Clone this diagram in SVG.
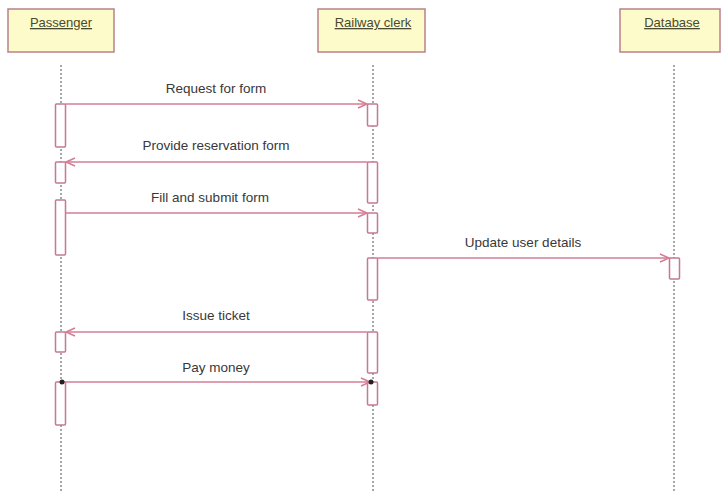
<svg xmlns="http://www.w3.org/2000/svg" width="722" height="491" viewBox="0 0 722 491">
<defs>
<style>
.obj{fill:#fdfbc9;stroke:#b8808c;stroke-width:1.5}
.name{font-family:"Liberation Sans",Arial,sans-serif;font-size:13px;fill:#4a4a30;text-decoration:underline;text-anchor:middle}
.life{stroke:#8a8a8a;stroke-width:1.5;stroke-dasharray:2,2;fill:none}
.act{fill:#fff;stroke:#c47a90;stroke-width:1.5}
.msg{stroke:#d47c96;stroke-width:1.5;fill:none}
.lbl{font-family:"Liberation Sans",Arial,sans-serif;font-size:13.5px;fill:#383838;text-anchor:middle}
</style>
<marker id="open" markerWidth="12" markerHeight="10" refX="10" refY="5" orient="auto" markerUnits="userSpaceOnUse">
<path d="M1,1 L10,5 L1,9" fill="none" stroke="#d47c96" stroke-width="1.5"/>
</marker>
</defs>
<rect width="722" height="491" fill="#fff"/>
<g id="passenger">
<rect class="obj" x="8" y="9" width="106" height="43"/>
<text class="name" x="61" y="27">Passenger</text>
<line class="life" x1="61" y1="65" x2="61" y2="491"/>
<rect class="act" x="55.5" y="104" width="10" height="43" rx="1"/>
<rect class="act" x="55.5" y="162" width="10" height="21" rx="1"/>
<rect class="act" x="55.5" y="200" width="10" height="55" rx="1"/>
<rect class="act" x="55.5" y="332" width="10" height="20" rx="1"/>
<rect class="act" x="55.5" y="382" width="10" height="43" rx="1"/>
</g>
<g id="clerk">
<rect class="obj" x="318" y="9" width="107" height="43"/>
<text class="name" x="373" y="27">Railway clerk</text>
<line class="life" x1="373" y1="65" x2="373" y2="491"/>
<rect class="act" x="367.5" y="104" width="10" height="22" rx="1"/>
<rect class="act" x="367.5" y="162" width="10" height="41" rx="1"/>
<rect class="act" x="367.5" y="213" width="10" height="20" rx="1"/>
<rect class="act" x="367.5" y="258" width="10" height="42" rx="1"/>
<rect class="act" x="367.5" y="332" width="10" height="41" rx="1"/>
<rect class="act" x="367.5" y="382" width="10" height="23" rx="1"/>
</g>
<g id="database">
<rect class="obj" x="620" y="9" width="100" height="43"/>
<text class="name" x="672" y="27">Database</text>
<line class="life" x1="674" y1="65" x2="674" y2="491"/>
<rect class="act" x="669.5" y="258" width="10" height="21" rx="1"/>
</g>
<g id="connectors">
<line class="msg" x1="65.5" y1="104" x2="367" y2="104" marker-end="url(#open)"/>
<text class="lbl" x="216" y="93">Request for form</text>
<line class="msg" x1="367.5" y1="162" x2="66" y2="162" marker-end="url(#open)"/>
<text class="lbl" x="216" y="150">Provide reservation form</text>
<line class="msg" x1="65.5" y1="213" x2="367" y2="213" marker-end="url(#open)"/>
<text class="lbl" x="210" y="202">Fill and submit form</text>
<line class="msg" x1="377.5" y1="258" x2="669" y2="258" marker-end="url(#open)"/>
<text class="lbl" x="523" y="247">Update user details</text>
<line class="msg" x1="367.5" y1="332" x2="66" y2="332" marker-end="url(#open)"/>
<text class="lbl" x="216" y="320">Issue ticket</text>
<line class="msg" x1="62" y1="382" x2="370" y2="382" marker-end="url(#open)"/>
<circle cx="62" cy="382" r="2.5" fill="#222"/>
<circle cx="371" cy="382" r="2.5" fill="#222"/>
<text class="lbl" x="216" y="372">Pay money</text>
</g>
</svg>
